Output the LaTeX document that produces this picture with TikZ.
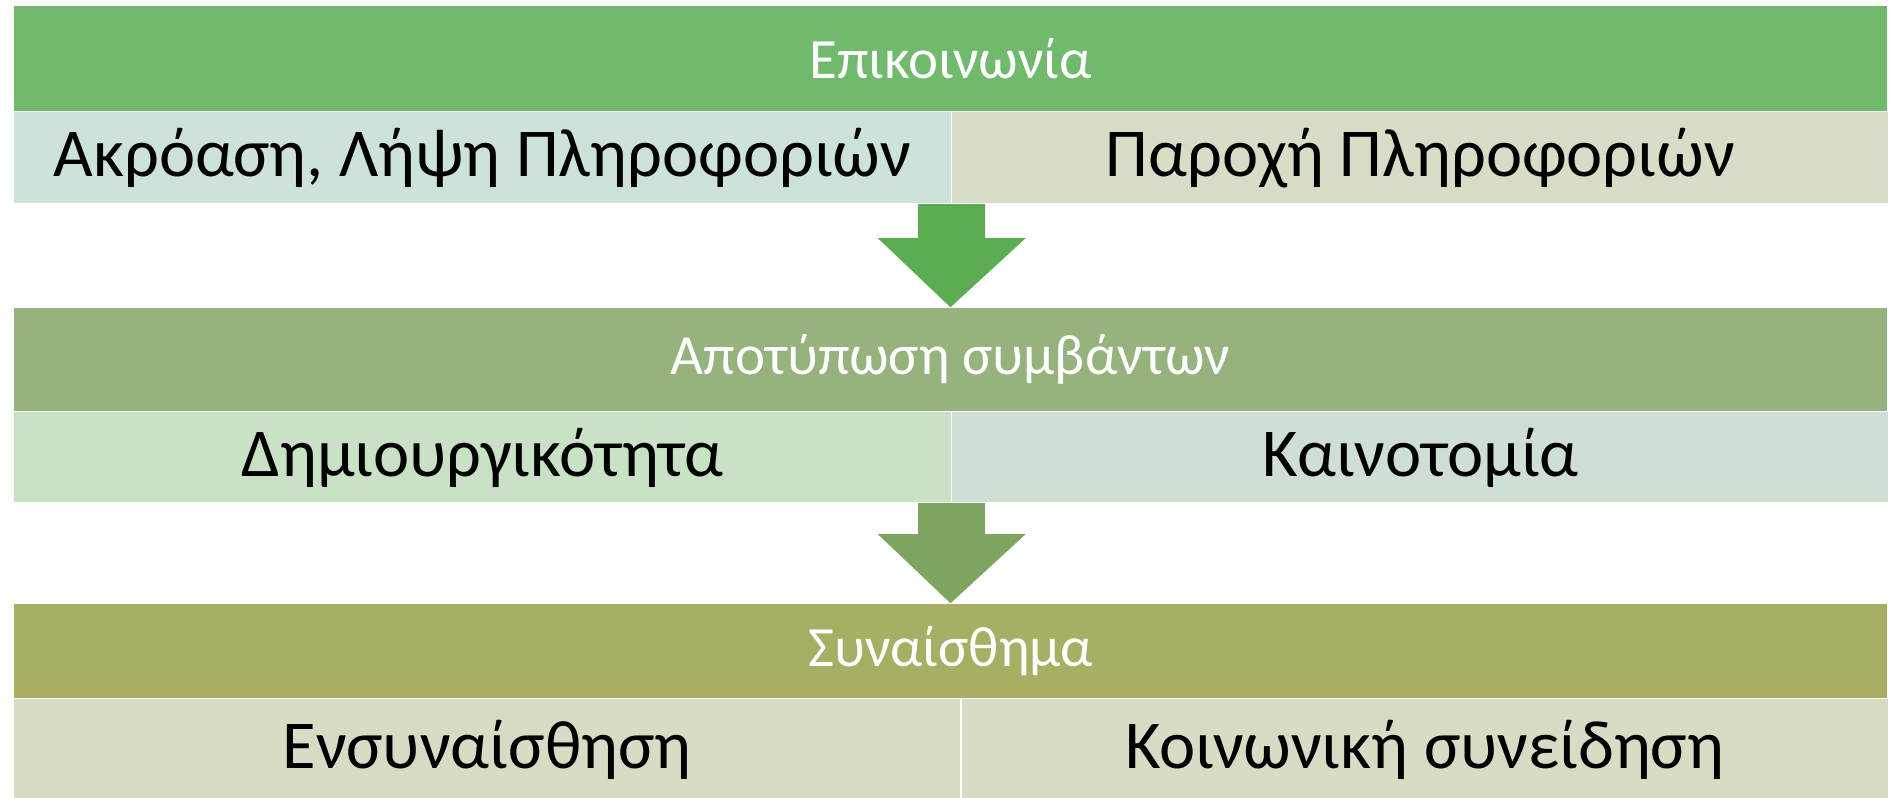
\documentclass[tikz,border=0pt]{standalone}
\usepackage{fontspec}
\setmainfont{Carlito}
\usetikzlibrary{positioning,calc}

\definecolor{headone}{HTML}{71B96D}
\definecolor{headtwo}{HTML}{96B27D}
\definecolor{headthree}{HTML}{A8AE63}
\definecolor{subone}{HTML}{CDE3D7}
\definecolor{subtwo}{HTML}{D6DEC7}
\definecolor{subthree}{HTML}{C9E1C5}
\definecolor{subfour}{HTML}{D0DFD3}
\definecolor{subfive}{HTML}{D7DCC4}
\definecolor{arrowone}{HTML}{5BAC52}
\definecolor{arrowtwo}{HTML}{7EA661}

\begin{document}
\begin{tikzpicture}
        [head/.style={minimum width=18.73cm, inner sep=0, text=white, font=\fontsize{16.2}{19}\selectfont},
        half/.style={anchor=north west, inner sep=0, text=black, font=\fontsize{19.5}{23}\selectfont},
        blockarrow/.style={draw=none}]

        \useasboundingbox (0,0) rectangle (18.94,-7.98);

        % headers
        \node[head, fill=headone, minimum height=1.05cm] (comm) at (9.505,-0.585) {Επικοινωνία};
        \node[head, fill=headtwo, minimum height=1.03cm] (rec) at (9.505,-3.595) {Αποτύπωση συμβάντων};
        \node[head, fill=headthree, minimum height=0.94cm] (emo) at (9.505,-6.51) {Συναίσθημα};

        % first row
        \node[half, fill=subone, minimum width=9.37cm, minimum height=0.91cm] (listen) at (comm.south west) {Ακρόαση, Λήψη Πληροφοριών};
        \node[half, fill=subtwo, minimum width=9.36cm, minimum height=0.91cm] (give) at (listen.north east) {Παροχή Πληροφοριών};

        % second row
        \node[half, fill=subthree, minimum width=9.37cm, minimum height=0.90cm] (create) at (rec.south west) {Δημιουργικότητα};
        \node[half, fill=subfour, minimum width=9.36cm, minimum height=0.90cm] (innov) at (create.north east) {Καινοτομία};

        % third row
        \node[half, fill=subfive, minimum width=9.46cm, minimum height=1.0cm] (empathy) at (emo.south west) {Ενσυναίσθηση};
        \node[half, fill=subfive, minimum width=9.27cm, minimum height=1.0cm] (social) at (empathy.north east) {Κοινωνική συνείδηση};
        \draw[white, line width=0.6pt] (empathy.north east) -- (empathy.south east);

        % block arrows between the levels
        \coordinate (tailone) at (listen.south east);
        \fill[arrowone] ($(tailone)+(-0.335,0)$) -- ($(tailone)+(-0.335,-0.34)$) -- ($(tailone)+(-0.74,-0.34)$)
            -- (rec.north) -- ($(tailone)+(0.74,-0.34)$) -- ($(tailone)+(0.335,-0.34)$) -- ($(tailone)+(0.335,0)$) -- cycle;

        \coordinate (tailtwo) at (create.south east);
        \fill[arrowtwo] ($(tailtwo)+(-0.335,0)$) -- ($(tailtwo)+(-0.335,-0.31)$) -- ($(tailtwo)+(-0.74,-0.31)$)
            -- (emo.north) -- ($(tailtwo)+(0.74,-0.31)$) -- ($(tailtwo)+(0.335,-0.31)$) -- ($(tailtwo)+(0.335,0)$) -- cycle;

    \end{tikzpicture}
\end{document}
